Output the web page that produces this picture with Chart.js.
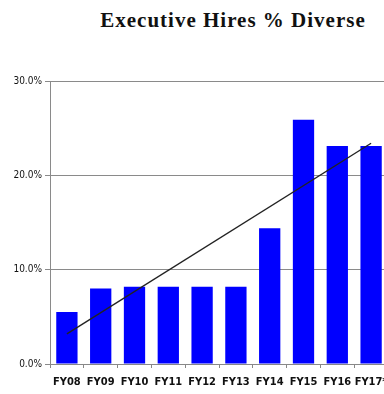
<!DOCTYPE html>
<html>
<head>
<meta charset="utf-8">
<script src="https://cdn.jsdelivr.net/npm/chart.js@4"></script>
<style>
    html, body { margin: 0; padding: 0; background: #fff; overflow: hidden; }
    #wrap { position: relative; width: 384px; height: 394px; overflow: hidden; }
    #title {
        position: absolute; left: 83px; top: 8px; width: 300px;
        font: bold 21px "Liberation Serif", "DejaVu Serif", serif;
        letter-spacing: 1px;
        color: #111; text-align: center; white-space: nowrap;
    }
    #chart { position: absolute; left: 0; top: 0; }
</style>
</head>
<body>
<div id="wrap">
    <div id="title">Executive Hires % Diverse</div>
    <canvas id="chart" width="400" height="394"></canvas>
</div>
<script>
// Fiscal years and share of executive hires that were diverse (%)
const years = ['FY08', 'FY09', 'FY10', 'FY11', 'FY12', 'FY13', 'FY14', 'FY15', 'FY16', 'FY17*'];
const diversePct = [5.5, 8.0, 8.2, 8.2, 8.2, 8.2, 14.4, 25.9, 23.1, 23.1];
// Linear trend, start and end values
const trendPct = [3.2, null, null, null, null, null, null, null, null, 23.4];
const yTicks = [0, 10, 20, 30];

const narrow = '"DejaVu Sans Condensed", "Liberation Sans", Arial, sans-serif';

const ctx = document.getElementById('chart').getContext('2d');
new Chart(ctx, {
    data: {
        labels: years,
        datasets: [{
            type: 'line',
            data: trendPct,
            borderColor: '#222',
            borderWidth: 1.4,
            pointRadius: 0,
            spanGaps: true,
            fill: false,
            order: 0
        }, {
            type: 'bar',
            data: diversePct,
            backgroundColor: '#0000ff',
            borderWidth: 0,
            categoryPercentage: 1,
            barPercentage: 0.63,
            order: 1
        }]
    },
    options: {
        responsive: false,
        animation: false,
        layout: { padding: { top: 81, left: 0, right: 12, bottom: 0 } },
        plugins: {
            legend: { display: false },
            tooltip: { enabled: false }
        },
        scales: {
            x: {
                grid: {
                    offset: true,
                    drawOnChartArea: false,
                    drawTicks: true,
                    tickLength: 4,
                    color: '#888'
                },
                border: { display: true, color: '#888' },
                ticks: {
                    color: '#111',
                    padding: 8,
                    font: { family: narrow, size: 11, weight: 'bold' },
                    maxRotation: 0,
                    autoSkip: false
                },
                afterFit(scale) { scale.height = 30; }
            },
            y: {
                min: 0,
                max: 30,
                afterBuildTicks(scale) {
                    scale.ticks = yTicks.map(v => ({ value: v }));
                },
                grid: {
                    color: '#8a8a8a',
                    tickLength: 5,
                    lineWidth: 1
                },
                border: { display: true, color: '#8a8a8a' },
                ticks: {
                    color: '#111',
                    padding: 3,
                    font: { family: narrow, size: 10 },
                    callback: v => v.toFixed(1) + '%'
                },
                afterFit(scale) { scale.width = 50; }
            }
        }
    }
});
</script>
</body>
</html>
